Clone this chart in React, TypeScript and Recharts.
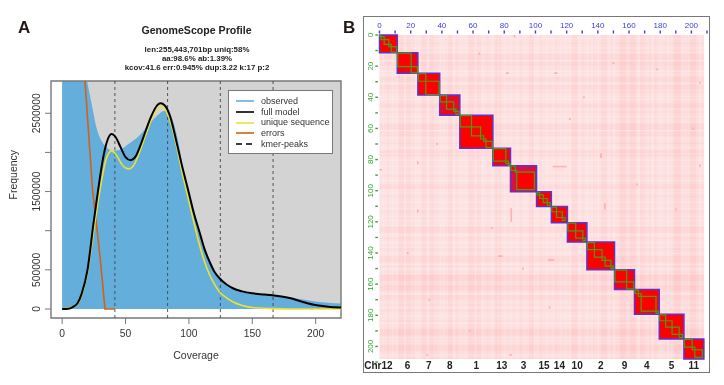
import {
  Area,
  ComposedChart,
  Legend,
  Line,
  ReferenceArea,
  ReferenceLine,
  Scatter,
  XAxis,
  YAxis,
} from "recharts";

// Panel A: GenomeScope profile
const observedX = [0, 19.4, 21, 24.7, 27, 30, 33, 36, 40, 45, 50, 53.5, 60, 65, 69, 75, 80, 83, 87, 90, 93, 96, 100, 108.6, 116, 124, 135, 150, 166, 180, 190, 200, 210, 220];
const observedY = [2912000, 2912000, 2800000, 2500000, 2320000, 2180000, 2100000, 2050000, 2020000, 2030000, 2080000, 2120000, 2200000, 2290000, 2370000, 2470000, 2530000, 2530000, 2420000, 2250000, 2020000, 1750000, 1450000, 970000, 600000, 390000, 265000, 200000, 175000, 150000, 120000, 95000, 80000, 70000];
const modelX = [0, 5, 9, 12, 15.5, 20, 24.7, 28.4, 32, 35, 39, 42, 46, 50, 54, 58, 62, 66, 70, 74, 77.6, 81, 85, 90, 95, 99.4, 104, 108.6, 112, 116.4, 120, 124.3, 130, 134.7, 142, 150, 160, 166, 173, 179.4, 190, 200, 210, 220];
const modelY = [0, 3000, 30000, 70000, 200000, 500000, 1090000, 1520000, 1900000, 2120000, 2235000, 2200000, 2070000, 1940000, 1900000, 1950000, 2100000, 2280000, 2450000, 2580000, 2627000, 2600000, 2470000, 2150000, 1800000, 1520000, 1220000, 970000, 780000, 600000, 480000, 390000, 310000, 265000, 225000, 200000, 185000, 175000, 160000, 140000, 90000, 50000, 30000, 20000];
const uniqueX = [0, 9, 12, 15.5, 20, 24.7, 28.4, 32, 35, 39, 43, 47, 50, 53, 57, 61, 65, 70, 74, 78, 82, 86, 90, 95, 99.4, 104, 108, 112, 116, 120, 124, 130, 135, 142, 150, 166, 180, 220];
const uniqueY = [0, 25000, 60000, 180000, 470000, 980000, 1380000, 1720000, 1930000, 2020000, 1960000, 1850000, 1800000, 1790000, 1850000, 2000000, 2180000, 2400000, 2530000, 2590000, 2530000, 2360000, 2100000, 1720000, 1420000, 1100000, 840000, 620000, 450000, 320000, 220000, 140000, 90000, 45000, 20000, 5000, 0, 0];
const errorX = [18, 24, 27.3, 30, 33.8, 41.6];
const errorY = [2912000, 1520000, 1050000, 650000, 0, 0];
const kmerPeaks = [41.6, 83.2, 124.8, 166.4];
const coverageTicks = [0, 50, 100, 150, 200];
const frequencyTicks = [0, 500000, 1000000, 1500000, 2000000, 2500000];
const frequencyLabels = [0, 500000, 1500000, 2500000];
const legendNames = ["observed", "full model", "unique sequence", "errors", "kmer-peaks"];
const legendColors = ["#64aedb", "#000000", "#f0e030", "#d2601a", "#000000"];
const subtitle = [
  "len:255,443,701bp uniq:58%",
  "aa:98.6% ab:1.39%",
  "kcov:41.6 err:0.945%  dup:3.22  k:17 p:2",
];

// Panel B: contact map, all positions in bins
const chrNames = ["Chr12", "6", "7", "8", "1", "13", "3", "15", "14", "10", "2", "9", "4", "5", "11"];
const chrEnds = [11.4, 24.6, 38.6, 51.5, 72.7, 84, 100.7, 110.2, 120.5, 133, 150.7, 163.5, 179.4, 195.2, 208];
const chrFills = ["#ff0000", "#f40010", "#ff0000", "#e80a20", "#ff0000", "#f40010", "#dc1040", "#ff0000", "#ff0000", "#f40010", "#ff0000", "#f40010", "#ff0000", "#ff0000", "#ff0000"];
const contigEnds = [
  [1, 3, 6, 7.5, 11],
  [20.3, 24.3],
  [29.7, 38.2],
  [43, 47.6, 49, 51],
  [59, 64.8, 66.8, 68.3, 72.3],
  [81, 82.6, 83.8],
  [87, 88, 99.3],
  [102.7, 105, 107.6, 109.5],
  [113.5, 117.2, 119],
  [125.8, 130.4, 132],
  [137.8, 142.7, 144.7, 148.4, 150],
  [158.5, 163],
  [166, 167.8, 177.3, 178.8],
  [183.5, 187.6, 192.2, 194.3],
  [200.5, 202.2, 207],
];
const mapTicks = [0, 10, 20, 30, 40, 50, 60, 70, 80, 90, 100, 110, 120, 130, 140, 150, 160, 170, 180, 190, 200, 210];
const darkBands = [
  [12, 16, 0.03], [17, 20, 0.035], [27, 30, 0.03], [32, 35, 0.03], [44, 47, 0.03], [57, 61, 0.035],
  [62, 65, 0.025], [74, 78, 0.03], [96, 99, 0.03], [123, 127, 0.03], [142, 146, 0.03], [152, 165, 0.02],
  [154, 158, 0.035], [160, 164, 0.03], [167, 171, 0.03], [176, 178, 0.025], [186, 205, 0.02],
  [189, 193, 0.035], [199, 203, 0.03], [5, 6, 0.025], [21, 22, 0.025], [36, 37, 0.025], [49, 50, 0.025],
  [69, 70, 0.025], [90, 91, 0.025], [103, 104, 0.025], [113, 114, 0.025], [130, 131, 0.025], [137, 138, 0.025],
  [148, 149, 0.025], [173, 174, 0.025], [183, 184, 0.025], [207, 208, 0.025],
];
const paleLines = [2, 8, 11, 16, 23, 25, 31, 39, 41, 47, 52, 55, 61, 66, 72, 76, 80, 84, 88, 93, 99, 101, 107, 111, 116, 119, 122, 128, 133, 136, 140, 147, 150, 153, 160, 166, 170, 175, 180, 185, 187, 194, 196, 198, 205];
const hotStreaks = [
  [84, 85, 111, 120], [111, 120, 84, 85], [24, 25, 112, 114], [112, 114, 24, 25], [24, 25, 81, 83],
  [81, 83, 24, 25], [76, 79, 141.5, 142.5], [141.5, 142.5, 76, 79], [205, 206, 30, 31.5], [30, 31.5, 205, 206],
  [205, 206, 83, 85], [83, 85, 205, 206], [0, 1.5, 86, 87], [86, 87, 0, 1.5], [144, 145, 108, 112], [108, 112, 144, 145],
];
const hotDotsX = [37, 64, 18, 92, 131, 165, 178, 201, 58, 109, 150, 72, 32, 122, 190];
const hotDotsY = [70, 12, 140, 150, 40, 96, 22, 60, 190, 175, 18, 124, 170, 54, 112];

const toPoints = (xs: number[], ys: number[]) => xs.map((x, i) => ({ x, y: ys[i] }));

const frameGray = "#787878";
const textGray = "#333";
const blue = "#3c3cdc";
const green = "#35a535";

function FrequencyTick({ x, y, payload }: any) {
  if (!frequencyLabels.includes(payload.value)) return null;
  return (
    <text
      x={x - 3}
      y={y}
      transform={`rotate(-90 ${x - 3} ${y})`}
      textAnchor="middle"
      fontSize={10.3}
      fill={textGray}
    >
      {payload.value}
    </text>
  );
}

function ProfileLegend() {
  return (
    <div
      style={{
        width: 105,
        height: 64,
        boxSizing: "border-box",
        background: "#fff",
        border: `1.5px solid ${frameGray}`,
        padding: "5px 0 0 7px",
        fontFamily: "Liberation Sans",
        fontSize: 9,
        lineHeight: "10.7px",
        color: textGray,
      }}
    >
      {legendNames.map((name, i) => (
        <div key={name} style={{ display: "flex", alignItems: "center", whiteSpace: "nowrap" }}>
          <svg width={18} height={4} style={{ marginRight: 7, flex: "none" }}>
            <line
              x1={0}
              x2={18}
              y1={2}
              y2={2}
              stroke={legendColors[i]}
              strokeWidth={1.6}
              strokeDasharray={name === "kmer-peaks" ? "6 4" : undefined}
            />
          </svg>
          {name}
        </div>
      ))}
    </div>
  );
}

function ProfileChart() {
  return (
    <ComposedChart
      width={343}
      height={385}
      margin={{ top: 81, right: 2, bottom: 27, left: 11 }}
      style={{ position: "absolute", left: 0, top: 0, fontFamily: "Liberation Sans" }}
    >
      <XAxis
        dataKey="x"
        type="number"
        domain={[-8.8, 220]}
        ticks={coverageTicks}
        height={40}
        axisLine={false}
        tickSize={6}
        tickMargin={6}
        tickLine={{ stroke: frameGray }}
        tick={{ fontSize: 10.3, fill: textGray }}
        label={{ value: "Coverage", position: "insideBottom", offset: -1, fontSize: 10.5, fill: textGray }}
      />
      <YAxis
        type="number"
        domain={[-115000, 2912000]}
        ticks={frequencyTicks}
        width={40}
        axisLine={false}
        tickSize={6}
        tickLine={{ stroke: frameGray }}
        tick={FrequencyTick}
        interval={0}
        label={{ value: "Frequency", angle: -90, position: "insideLeft", offset: 2, fontSize: 10.5, fill: textGray }}
      />
      <ReferenceArea x1={0} x2={220} y1={0} y2={2912000} fill="#d3d3d3" fillOpacity={1} stroke="none" />
      <Area
        data={toPoints(observedX, observedY)}
        dataKey="y"
        type="monotone"
        baseValue={0}
        fill="#64aedb"
        fillOpacity={1}
        stroke="none"
        dot={false}
        activeDot={false}
        isAnimationActive={false}
      />
      {kmerPeaks.map((peak) => (
        <ReferenceLine key={peak} x={peak} stroke="#444" strokeWidth={0.9} strokeDasharray="3 3" />
      ))}
      <Line
        data={toPoints(errorX, errorY)}
        dataKey="y"
        type="linear"
        stroke="#d2601a"
        strokeWidth={1.6}
        dot={false}
        activeDot={false}
        isAnimationActive={false}
      />
      <Line
        data={toPoints(uniqueX, uniqueY)}
        dataKey="y"
        type="monotone"
        stroke="#f0e030"
        strokeWidth={1.6}
        dot={false}
        activeDot={false}
        isAnimationActive={false}
      />
      <Line
        data={toPoints(modelX, modelY)}
        dataKey="y"
        type="monotone"
        stroke="#000"
        strokeWidth={2}
        dot={false}
        activeDot={false}
        isAnimationActive={false}
      />
      <ReferenceArea
        x1={-8.8}
        x2={220}
        y1={-115000}
        y2={2912000}
        fill="none"
        stroke={frameGray}
        strokeWidth={1.4}
      />
      <Legend
        layout="vertical"
        align="center"
        verticalAlign="middle"
        content={ProfileLegend}
        wrapperStyle={{ left: 228, top: 90, width: 105, height: 64 }}
      />
      <text x={196.5} y={34} textAnchor="middle" fontSize={10.6} fontWeight="bold" fill="#222">
        GenomeScope Profile
      </text>
      {subtitle.map((line, i) => (
        <text key={line} x={197} y={51.5 + i * 9} textAnchor="middle" fontSize={7.9} fontWeight="bold" fill="#222">
          {line}
        </text>
      ))}
      <text x={18} y={33} fontSize={17} fontWeight="bold" fill="#231815">
        A
      </text>
    </ComposedChart>
  );
}

function TopTick({ x, payload }: any) {
  return (
    <g>
      <rect x={x - 0.7} y={30.5} width={1.4} height={3} fill={blue} />
      {payload.value % 20 === 0 && payload.value < 210 && (
        <text x={x} y={28} textAnchor="middle" fontSize={8} fill={blue}>
          {payload.value}
        </text>
      )}
    </g>
  );
}

function LeftTick({ y, payload }: any) {
  const labelX = 33;
  return (
    <g>
      <rect x={35.3} y={y - 0.7} width={2.6} height={1.4} fill={green} />
      {payload.value % 20 === 0 && payload.value < 210 && (
        <text
          x={labelX}
          y={y}
          transform={`rotate(-90 ${labelX} ${y})`}
          textAnchor="middle"
          fontSize={8}
          fill={green}
        >
          {payload.value}
        </text>
      )}
    </g>
  );
}

function ChrTick({ x, payload, index }: any) {
  return (
    <text
      x={index === 0 ? x - 10 : x}
      y={369}
      textAnchor="middle"
      fontSize={10}
      fontWeight="bold"
      fill="#222"
    >
      {chrNames[index] ?? payload.value}
    </text>
  );
}

function HotDot({ cx, cy }: any) {
  return <rect x={cx - 1} y={cy - 1} width={2} height={2} fill="#f9b4b4" />;
}

function NoMark() {
  return null;
}

function ContactMap() {
  const starts = chrEnds.map((_, i) => (i === 0 ? 0 : chrEnds[i - 1]));
  const chrCentres = chrEnds.map((end, i) => (starts[i] + end) / 2);
  return (
    <ComposedChart
      width={384}
      height={385}
      margin={{ top: 16, right: 17, bottom: 3, left: 20 }}
      style={{ position: "absolute", left: 340, top: 0, fontFamily: "Liberation Sans" }}
    >
      <XAxis
        xAxisId={0}
        dataKey="x"
        type="number"
        orientation="top"
        domain={[0, 210]}
        ticks={mapTicks}
        interval={0}
        height={19}
        axisLine={false}
        tickLine={false}
        tick={TopTick}
      />
      <XAxis
        xAxisId="chr"
        dataKey="x"
        type="number"
        orientation="bottom"
        domain={[0, 210]}
        ticks={chrCentres}
        interval={0}
        height={20}
        axisLine={false}
        tickLine={false}
        tick={ChrTick}
      />
      <YAxis
        dataKey="y"
        type="number"
        reversed
        domain={[0, 210]}
        ticks={mapTicks}
        interval={0}
        width={19.5}
        axisLine={false}
        tickLine={false}
        tick={LeftTick}
      />
      <ReferenceArea x1={0} x2={208} y1={0} y2={208} fill="#fde2e2" fillOpacity={1} stroke="none" />
      {darkBands.map(([from, to, alpha]) => (
        <ReferenceArea key={`v${from}`} x1={from} x2={to} y1={0} y2={208} fill="#f00" fillOpacity={alpha} stroke="none" />
      ))}
      {darkBands.map(([from, to, alpha]) => (
        <ReferenceArea key={`h${from}`} x1={0} x2={208} y1={from} y2={to} fill="#f00" fillOpacity={alpha} stroke="none" />
      ))}
      {paleLines.map((at) => (
        <ReferenceArea key={`pv${at}`} x1={at} x2={at + 0.7} y1={0} y2={208} fill="#fff" fillOpacity={0.2} stroke="none" />
      ))}
      {paleLines.map((at) => (
        <ReferenceArea key={`ph${at}`} x1={0} x2={208} y1={at} y2={at + 0.7} fill="#fff" fillOpacity={0.2} stroke="none" />
      ))}
      {hotStreaks.map(([x1, x2, y1, y2]) => (
        <ReferenceArea key={`s${x1}-${y1}`} x1={x1} x2={x2} y1={y1} y2={y2} fill="#f66" fillOpacity={0.4} stroke="none" />
      ))}
      <Scatter
        data={toPoints(hotDotsX, hotDotsY)}
        dataKey="y"
        shape={HotDot}
        isAnimationActive={false}
      />
      <Scatter
        xAxisId="chr"
        data={toPoints(chrCentres, chrEnds)}
        dataKey="y"
        shape={NoMark}
        isAnimationActive={false}
      />
      {chrEnds.map((end, i) => (
        <ReferenceArea
          key={chrNames[i]}
          x1={starts[i]}
          x2={end}
          y1={starts[i]}
          y2={end}
          fill={chrFills[i]}
          fillOpacity={1}
          stroke="#5a35d2"
          strokeWidth={1.5}
        />
      ))}
      {contigEnds.map((ends, i) =>
        ends.map((end, j) => {
          const from = j === 0 ? starts[i] + 0.3 : ends[j - 1];
          return (
            <ReferenceArea
              key={`${i}-${j}`}
              x1={from}
              x2={end}
              y1={from}
              y2={end}
              fill="#ff0000"
              fillOpacity={1}
              stroke="#4a9c14"
              strokeWidth={1.2}
            />
          );
        }),
      )}
      <text x={3} y={33} fontSize={17} fontWeight="bold" fill="#231815">
        B
      </text>
    </ComposedChart>
  );
}

export default function App() {
  return (
    <div style={{ position: "absolute", left: 0, top: 0, width: 724, height: 385, background: "#fff", filter: "blur(0.4px)" }}>
      <div
        style={{
          position: "absolute",
          left: 363,
          top: 16,
          width: 345,
          height: 355,
          border: `1.5px solid ${frameGray}`,
        }}
      />
      <ProfileChart />
      <ContactMap />
    </div>
  );
}
